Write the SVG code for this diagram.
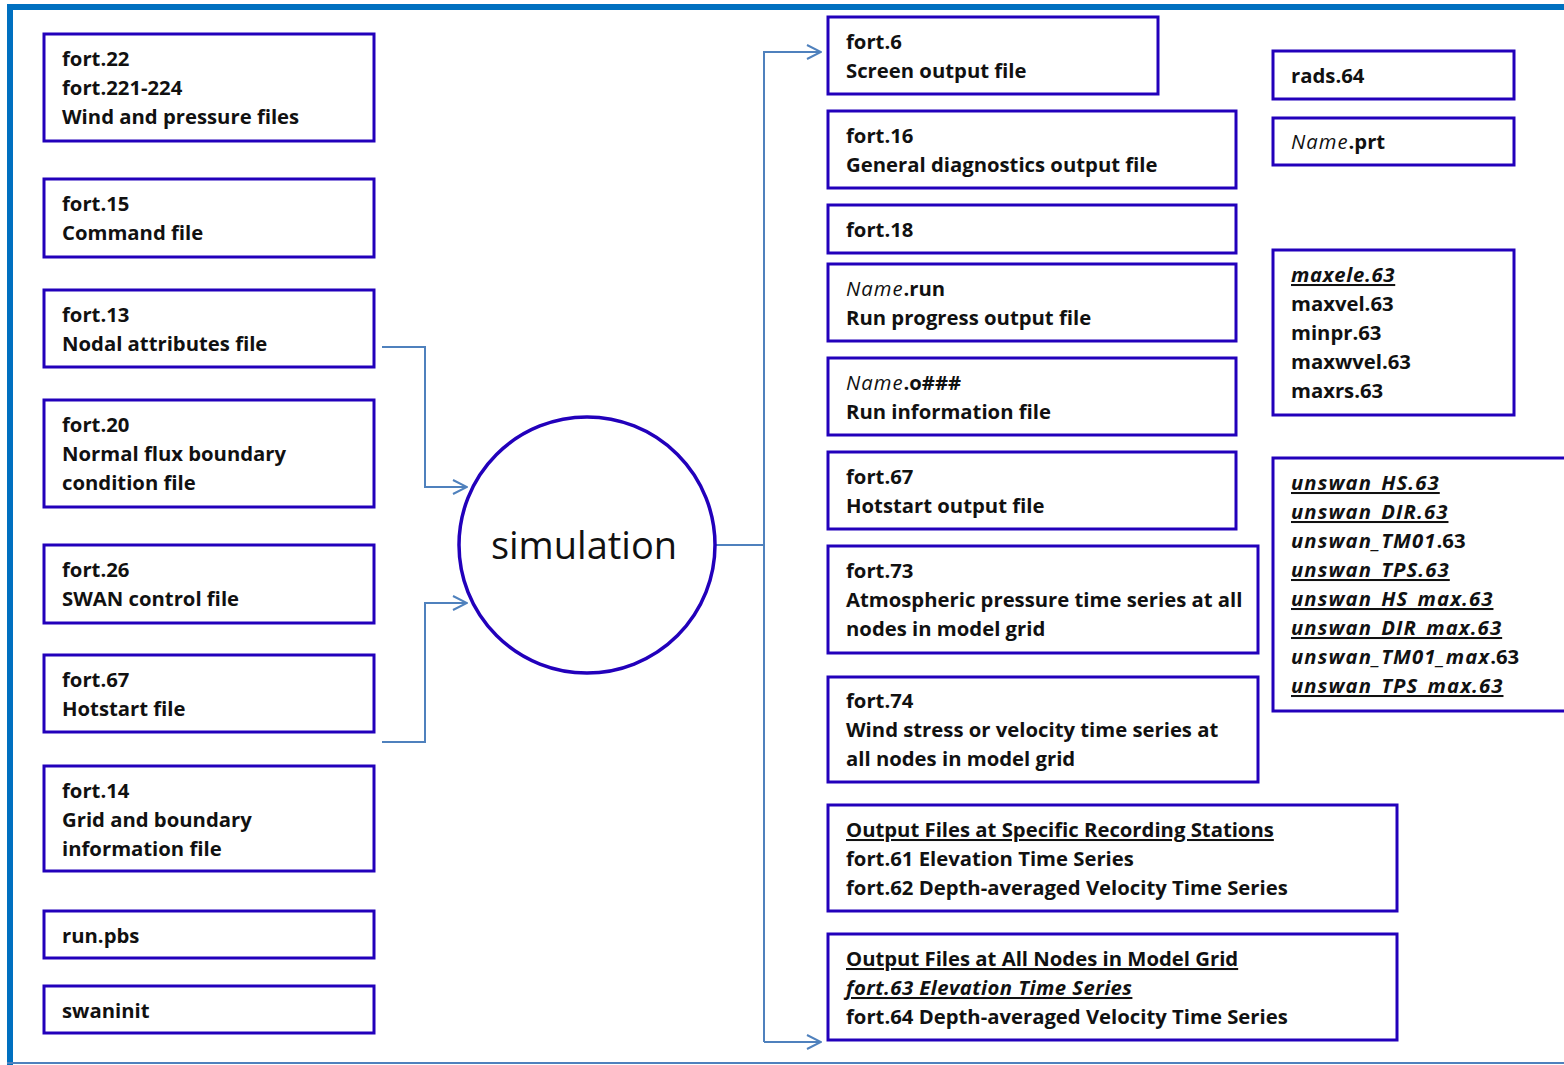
<svg xmlns="http://www.w3.org/2000/svg" width="1564" height="1065" viewBox="0 0 1564 1065">
<defs>
<style>
.box{fill:#fff;stroke:#2200BB;stroke-width:3}
.t{font-family:"Open Sans","Noto Sans",sans-serif;font-weight:700;font-size:20.3px;fill:#111}
.i{font-style:italic}
.n{font-weight:400}
.u{text-decoration:underline}
.w{letter-spacing:1.1px}
.c{fill:none;stroke:#4F81BD;stroke-width:2}
</style>
<marker id="ar" viewBox="0 0 16 16" refX="15" refY="8" markerWidth="16" markerHeight="16" markerUnits="userSpaceOnUse" orient="auto">
<path d="M1,1 L15,8 L1,15" fill="none" stroke="#4F81BD" stroke-width="2"/>
</marker>
</defs>
<rect width="1564" height="1065" fill="#fff"/>
<g id="frame">
<line x1="7" y1="7" x2="1564" y2="7" stroke="#0070C0" stroke-width="6"/>
<line x1="10" y1="4" x2="10" y2="1065" stroke="#0070C0" stroke-width="6"/>
<line x1="7" y1="1063" x2="1564" y2="1063" stroke="#4F81BD" stroke-width="2"/>
</g>
<g id="connectors">
<path class="c" d="M382,347 H425 V487 H467" marker-end="url(#ar)"/>
<path class="c" d="M382,742 H425 V603 H467" marker-end="url(#ar)"/>
<path class="c" d="M716,545 H764"/>
<path class="c" d="M764,1042 V52 H821" marker-end="url(#ar)"/>
<path class="c" d="M764,1042 H821" marker-end="url(#ar)"/>
</g>
<g id="n-fort22"><rect class="box" x="44" y="34" width="330" height="107"/>
<text class="t" x="62" y="66">fort.22</text><text class="t" x="62" y="95">fort.221-224</text><text class="t" x="62" y="124">Wind and pressure files</text></g>
<g id="n-fort15"><rect class="box" x="44" y="179" width="330" height="78"/>
<text class="t" x="62" y="211">fort.15</text><text class="t" x="62" y="240">Command file</text></g>
<g id="n-fort13"><rect class="box" x="44" y="290" width="330" height="77"/>
<text class="t" x="62" y="322">fort.13</text><text class="t" x="62" y="351">Nodal attributes file</text></g>
<g id="n-fort20"><rect class="box" x="44" y="400" width="330" height="107"/>
<text class="t" x="62" y="432">fort.20</text><text class="t" x="62" y="461">Normal flux boundary</text><text class="t" x="62" y="490">condition file</text></g>
<g id="n-fort26"><rect class="box" x="44" y="545" width="330" height="78"/>
<text class="t" x="62" y="577">fort.26</text><text class="t" x="62" y="606">SWAN control file</text></g>
<g id="n-fort67in"><rect class="box" x="44" y="655" width="330" height="77"/>
<text class="t" x="62" y="687">fort.67</text><text class="t" x="62" y="716">Hotstart file</text></g>
<g id="n-fort14"><rect class="box" x="44" y="766" width="330" height="105"/>
<text class="t" x="62" y="798">fort.14</text><text class="t" x="62" y="827">Grid and boundary</text><text class="t" x="62" y="856">information file</text></g>
<g id="n-runpbs"><rect class="box" x="44" y="911" width="330" height="47"/>
<text class="t" x="62" y="943">run.pbs</text></g>
<g id="n-swaninit"><rect class="box" x="44" y="986" width="330" height="47"/>
<text class="t" x="62" y="1018">swaninit</text></g>
<g id="n-simulation"><circle cx="587" cy="545" r="128" fill="#fff" stroke="#2200BB" stroke-width="3.5"/>
<text x="584" y="559" text-anchor="middle" font-family="Open Sans, Noto Sans, sans-serif" font-size="38" fill="#111">simulation</text></g>
<g id="n-fort6"><rect class="box" x="828" y="17" width="330" height="77"/>
<text class="t" x="846" y="49">fort.6</text><text class="t" x="846" y="78">Screen output file</text></g>
<g id="n-fort16"><rect class="box" x="828" y="111" width="408" height="77"/>
<text class="t" x="846" y="143">fort.16</text><text class="t" x="846" y="172">General diagnostics output file</text></g>
<g id="n-fort18"><rect class="box" x="828" y="205" width="408" height="48"/>
<text class="t" x="846" y="237">fort.18</text></g>
<g id="n-namerun"><rect class="box" x="828" y="264" width="408" height="77"/>
<text class="t" x="846" y="296"><tspan class="i n" letter-spacing="1">Name</tspan>.run</text><text class="t" x="846" y="325">Run progress output file</text></g>
<g id="n-nameo"><rect class="box" x="828" y="358" width="408" height="77"/>
<text class="t" x="846" y="390"><tspan class="i n" letter-spacing="1">Name</tspan>.o###</text><text class="t" x="846" y="419">Run information file</text></g>
<g id="n-fort67out"><rect class="box" x="828" y="452" width="408" height="77"/>
<text class="t" x="846" y="484">fort.67</text><text class="t" x="846" y="513">Hotstart output file</text></g>
<g id="n-fort73"><rect class="box" x="828" y="546" width="430" height="107"/>
<text class="t" x="846" y="578">fort.73</text><text class="t" x="846" y="607">Atmospheric pressure time series at all</text><text class="t" x="846" y="636">nodes in model grid</text></g>
<g id="n-fort74"><rect class="box" x="828" y="677" width="430" height="105"/>
<text class="t" x="846" y="708">fort.74</text><text class="t" x="846" y="737">Wind stress or velocity time series at</text><text class="t" x="846" y="766">all nodes in model grid</text></g>
<g id="n-stations"><rect class="box" x="828" y="805" width="569" height="106"/>
<text class="t" x="846" y="837"><tspan class="u">Output Files at Specific Recording Stations</tspan></text><text class="t" x="846" y="866">fort.61 Elevation Time Series</text><text class="t" x="846" y="895">fort.62 Depth-averaged Velocity Time Series</text></g>
<g id="n-allnodes"><rect class="box" x="828" y="934" width="569" height="106"/>
<text class="t" x="846" y="966"><tspan class="u">Output Files at All Nodes in Model Grid</tspan></text><text class="t" x="846" y="995"><tspan class="i u" letter-spacing="0.45">fort.63 Elevation Time Series</tspan></text><text class="t" x="846" y="1024">fort.64 Depth-averaged Velocity Time Series</text></g>
<g id="n-rads64"><rect class="box" x="1273" y="51" width="241" height="48"/>
<text class="t" x="1291" y="83">rads.64</text></g>
<g id="n-nameprt"><rect class="box" x="1273" y="118" width="241" height="47"/>
<text class="t" x="1291" y="149"><tspan class="i n" letter-spacing="1">Name</tspan>.prt</text></g>
<g id="n-max"><rect class="box" x="1273" y="250" width="241" height="165"/>
<text class="t" x="1291" y="282"><tspan class="i u" letter-spacing="0.7">maxele.63</tspan></text><text class="t" x="1291" y="311">maxvel.63</text><text class="t" x="1291" y="340">minpr.63</text><text class="t" x="1291" y="369">maxwvel.63</text><text class="t" x="1291" y="398">maxrs.63</text></g>
<g id="n-unswan"><rect class="box" x="1273" y="458" width="300" height="253"/>
<text class="t" x="1291" y="490"><tspan class="i u w">unswan_HS.63</tspan></text>
<text class="t" x="1291" y="519"><tspan class="i u w">unswan_DIR.63</tspan></text>
<text class="t" x="1291" y="548"><tspan class="i w">unswan_TM01</tspan>.63</text>
<text class="t" x="1291" y="577"><tspan class="i u w">unswan_TPS.63</tspan></text>
<text class="t" x="1291" y="606"><tspan class="i u w">unswan_HS_max.63</tspan></text>
<text class="t" x="1291" y="635"><tspan class="i u w">unswan_DIR_max.63</tspan></text>
<text class="t" x="1291" y="664"><tspan class="i w">unswan_TM01_max</tspan>.63</text>
<text class="t" x="1291" y="693"><tspan class="i u w">unswan_TPS_max.63</tspan></text></g>
</svg>
